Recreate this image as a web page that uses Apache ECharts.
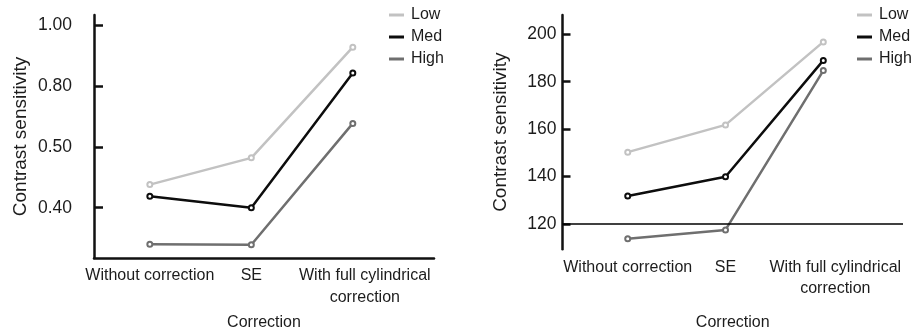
<!DOCTYPE html>
<html>
<head>
<meta charset="utf-8">
<script src="https://cdn.jsdelivr.net/npm/echarts@6/dist/echarts.min.js"></script>
<style>html,body{margin:0;padding:0;background:#fff;}#c{width:914px;height:333px;}</style>
</head>
<body>
<div id="c"></div>
<script>
// ---- data ----
const categories = ['Without correction', 'SE', 'With full cylindrical\ncorrection'];
const seriesNames = ['Low', 'Med', 'High'];
const seriesColors = ['#c2c2c2', '#0d0d0d', '#6f6f6f'];
// Left panel: tick labels are unevenly valued but evenly spaced
const leftTickValues = [0.40, 0.50, 0.80, 1.00];
const leftLow = [0.438, 0.482, 0.928];
const leftMed = [0.419, 0.400, 0.843];
const leftHigh = [0.340, 0.339, 0.616];
// Right panel
const rightTickValues = [120, 140, 160, 180, 200];
const rightLow = [150.3, 161.8, 196.8];
const rightMed = [131.8, 139.9, 189.0];
const rightHigh = [113.8, 117.5, 184.7];
const rightBaseline = 120;

// map left-panel values onto the evenly spaced tick scale (piecewise linear)
function leftPos(v) {
  const t = leftTickValues;
  if (v <= t[0]) return (v - t[0]) / (t[1] - t[0]);
  for (let i = 0; i < t.length - 1; i++) {
    if (v <= t[i + 1]) return i + (v - t[i]) / (t[i + 1] - t[i]);
  }
  const n = t.length - 1;
  return n + (v - t[n]) / (t[n] - t[n - 1]);
}

const FONT = '"Liberation Sans", Arial, sans-serif';
const TXT = '#1c1c1c';

function xLabelFormatter(v) {
  const i = Math.round(v) - 1;
  const s = categories[i];
  if (i === 2) return s.split('\n').map(p => '{w|' + p + '}').join('\n');
  return s;
}

function makeX(gridIndex, min, max, showLine, nameGap) {
  return {
    gridIndex, type: 'value', min, max,
    axisLine: { show: showLine, onZero: false, lineStyle: { color: '#111', width: 2.5 } },
    axisTick: { show: false },
    splitLine: { show: false },
    axisLabel: {
      customValues: [1, 2, 3], formatter: xLabelFormatter,
      fontSize: 16, color: TXT, margin: 7, lineHeight: 21.7, fontFamily: FONT,
      rich: { w: { fontSize: 16, color: TXT, lineHeight: 21.7, padding: [0, 0, 0, 24], fontFamily: FONT } }
    },
    name: 'Correction', nameLocation: 'middle', nameGap,
    nameTextStyle: { fontSize: 16, color: TXT, fontFamily: FONT }
  };
}

function lineSeries(name, idx, vals, gi, mapFn) {
  return {
    type: 'line', name, xAxisIndex: gi, yAxisIndex: gi,
    data: vals.map((v, i) => [i + 1, mapFn ? mapFn(v) : v]),
    color: seriesColors[idx],
    symbol: 'emptyCircle', symbolSize: 5,
    lineStyle: { width: 2.5, color: seriesColors[idx] },
    itemStyle: { color: seriesColors[idx], borderWidth: 1.2 },
    silent: true
  };
}

const leftIdx = leftTickValues.map((_, i) => i);

function makeLegend(left) {
  return {
    data: seriesNames, orient: 'vertical', left, top: 2, icon: 'rect',
    itemWidth: 15, itemHeight: 3, itemGap: 6, selectedMode: false,
    textStyle: { fontSize: 16, color: TXT, fontFamily: FONT, padding: [0, 0, 0, 2] }
  };
}

const option = {
  animation: false,
  backgroundColor: '#fff',
  textStyle: { fontFamily: FONT },
  grid: [
    { left: 94, top: 15, width: 340, height: 243, containLabel: false, outerBoundsMode: 'none' },
    { left: 562.5, top: 15, width: 340.5, height: 234.3, containLabel: false, outerBoundsMode: 'none' }
  ],
  xAxis: [
    makeX(0, 0.45, 3.8, true, 57),
    makeX(1, 0.333, 3.815, false, 65)
  ],
  yAxis: [
    {
      gridIndex: 0, type: 'value', min: -0.827, max: 3.169,
      axisLine: { show: true, onZero: false, lineStyle: { color: '#111', width: 2.5 } },
      axisTick: { show: true, inside: true, length: 9, customValues: leftIdx, lineStyle: { color: '#111', width: 2.5 } },
      splitLine: { show: false },
      axisLabel: { customValues: leftIdx, formatter: v => leftTickValues[Math.round(v)].toFixed(2), fontSize: 17.5, color: TXT, margin: 22, fontFamily: FONT },
      name: 'Contrast sensitivity', nameLocation: 'middle', nameGap: 64,
      nameTextStyle: { fontSize: 19, color: TXT, fontFamily: FONT }
    },
    {
      gridIndex: 1, type: 'value', min: 109.33, max: 208.14,
      axisLine: { show: true, onZero: false, lineStyle: { color: '#111', width: 2.5 } },
      axisTick: { show: true, inside: true, length: 8, customValues: rightTickValues, lineStyle: { color: '#111', width: 2.5 } },
      splitLine: { show: false },
      axisLabel: { customValues: rightTickValues, fontSize: 17.5, color: TXT, margin: 6, fontFamily: FONT },
      name: 'Contrast sensitivity', nameLocation: 'middle', nameGap: 52,
      nameTextStyle: { fontSize: 19, color: TXT, fontFamily: FONT }
    }
  ],
  legend: [makeLegend(384), makeLegend(852)],
  series: [
    lineSeries('Low', 0, leftLow, 0, leftPos),
    lineSeries('Med', 1, leftMed, 0, leftPos),
    lineSeries('High', 2, leftHigh, 0, leftPos),
    lineSeries('Low', 0, rightLow, 1),
    lineSeries('Med', 1, rightMed, 1),
    Object.assign(lineSeries('High', 2, rightHigh, 1), {
      markLine: {
        silent: true, symbol: ['none', 'none'], label: { show: false },
        lineStyle: { color: '#000', width: 1.5, type: 'solid' },
        data: [{ yAxis: rightBaseline }]
      }
    })
  ]
};

const chart = echarts.init(document.getElementById('c'), null, { renderer: 'canvas' });
chart.setOption(option);
</script>
</body>
</html>
